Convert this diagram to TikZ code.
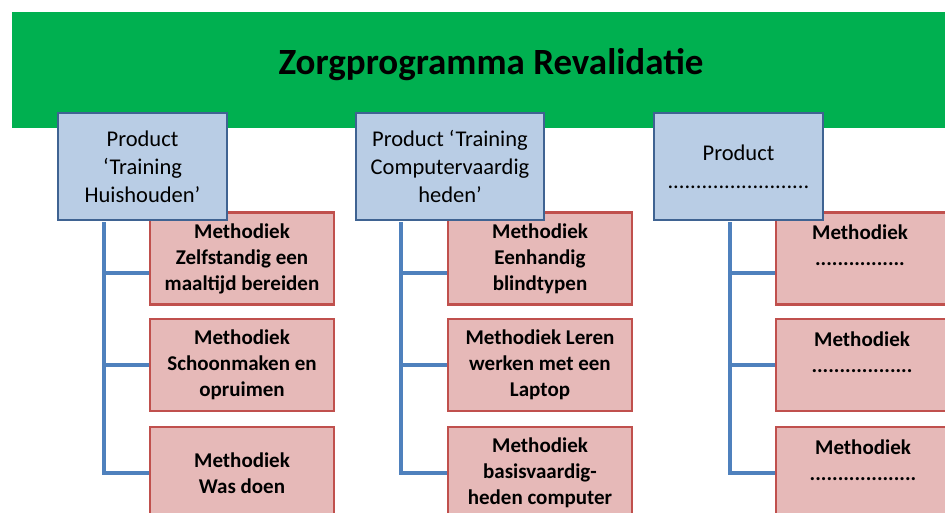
\documentclass[tikz,border=0pt]{standalone}
\usepackage{fontspec}
\setmainfont{Carlito}
\definecolor{bannergreen}{HTML}{00B050}
\definecolor{prodfill}{HTML}{B9CDE5}
\definecolor{proddraw}{HTML}{3F6392}
\definecolor{methfill}{HTML}{E6B9B8}
\definecolor{methdraw}{HTML}{C0504D}
\definecolor{linkblue}{HTML}{4F81BD}
\begin{document}
\begin{tikzpicture}[x=1pt,y=-1pt]

    \tikzset{
      product/.style={
        draw=proddraw,
        fill=prodfill,
        line width=2.5pt,
        minimum height=107pt,
        align=center,
        inner sep=0pt,
        font=\fontsize{22.5}{28}\selectfont,
      },
      method/.style={
        draw=methdraw,
        fill=methfill,
        line width=2.5pt,
        minimum width=184pt,
        minimum height=92pt,
        align=center,
        inner sep=0pt,
        font=\fontsize{21}{26}\selectfont\bfseries,
      },
      link/.style={
        draw=linkblue,
        line width=4pt,
      },
    }
    \useasboundingbox (0,0) rectangle (945,513);
    \clip (0,0) rectangle (945,513);
	\fill[white] (0,0) rectangle (945,513);
	\node[fill=bannergreen,minimum width=950pt,minimum height=116pt,anchor=north west,inner sep=0pt] (banner) at (12,12) {};
	\node[font=\fontsize{37}{44}\selectfont\bfseries] (title) at (491,65) {Zorgprogramma Revalidatie};

	\node[method] (m11) at (242,258.5) {Methodiek\\ Zelfstandig een\\ maaltijd bereiden};
	\node[method] (m12) at (242,365) {Methodiek\\ Schoonmaken en\\ opruimen};
	\node[method] (m13) at (242,473) {Methodiek\\ Was doen};
	\node[method] (m21) at (540,258.5) {Methodiek\\ Eenhandig\\ blindtypen};
	\node[method] (m22) at (540,365) {Methodiek Leren\\ werken met een\\ Laptop};
	\node[method] (m23) at (540,473) {Methodiek\\ basisvaardig-\\ heden computer};
	\node[method] (m31) at (868,258.5) {\hspace*{-16pt}Methodiek\\ \hspace*{-16pt}................\\ \mbox{}};
	\node[method] (m32) at (868,365) {\hspace*{-12pt}Methodiek\\ \hspace*{-12pt}..................\\ \mbox{}};
	\node[method] (m33) at (868,473) {\hspace*{-10pt}Methodiek\\ \hspace*{-10pt}...................\\ \mbox{}};

	\node[product,minimum width=169pt] (p1) at (142.5,166.5) {Product\\ `Training\\ Huishouden'};
	\node[product,minimum width=188pt] (p2) at (450,166.5) {Product `Training\\ Computervaardig\\ heden'};
	\node[product,minimum width=169pt] (p3) at (738.5,166.5) {Product\\ .........................};

	\draw[link] ([xshift=47pt,yshift=-1.25pt]p1.south west) |- ([yshift=-14pt]m11.west);
	\draw[link] ([xshift=47pt,yshift=-1.25pt]p1.south west) |- (m12.west);
	\draw[link] ([xshift=47pt,yshift=-1.25pt]p1.south west) |- (m13.west);
	\draw[link] ([xshift=46pt,yshift=-1.25pt]p2.south west) |- ([yshift=-14pt]m21.west);
	\draw[link] ([xshift=46pt,yshift=-1.25pt]p2.south west) |- (m22.west);
	\draw[link] ([xshift=46pt,yshift=-1.25pt]p2.south west) |- (m23.west);
	\draw[link] ([xshift=77pt,yshift=-1.25pt]p3.south west) |- ([yshift=-14pt]m31.west);
	\draw[link] ([xshift=77pt,yshift=-1.25pt]p3.south west) |- (m32.west);
	\draw[link] ([xshift=77pt,yshift=-1.25pt]p3.south west) |- (m33.west);

\end{tikzpicture}
\end{document}
